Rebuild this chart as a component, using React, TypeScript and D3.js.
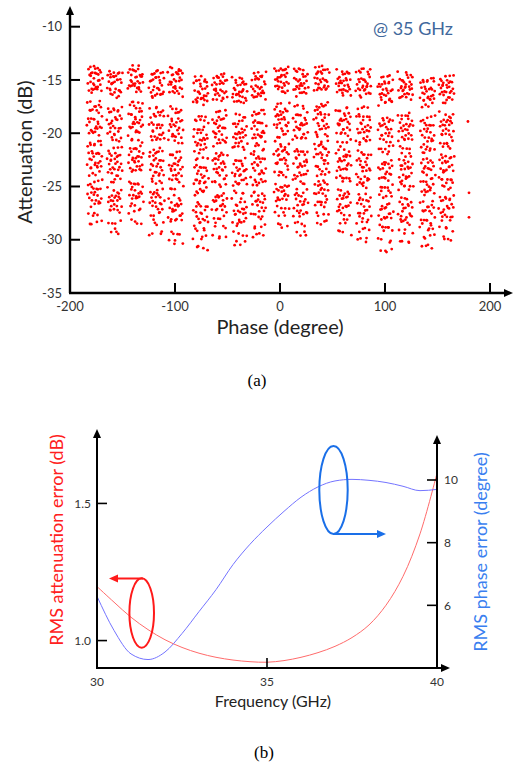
import React from "react";
import * as d3 from "d3";

// ---------- (a) scatter data ----------
const clusterPhase = [-176, -157, -137, -117, -99, -75, -57, -38, -20, 2, 20, 40, 61, 80, 101, 120, 141, 159];
const clusterTop = [-13.9, -14.2, -13.9, -14.3, -13.9, -14.9, -14.6, -14.9, -14.5, -13.9, -14.1, -13.9, -14.2, -14.1, -14.8, -14.5, -15.0, -14.7];
const clusterBottom = [-28.4, -29.2, -28.3, -29.3, -30.3, -30.8, -29.6, -30.4, -29.6, -28.6, -29.5, -28.4, -29.3, -30.1, -31.0, -30.3, -30.7, -29.9];
const subStateOffset = [-5.6, -2.3, 1.1, 4.5];
const levelOffsets = [0, 0.3, 0.6, 0.9, 1.2, 1.5, 1.8, 2.1, 3.3, 3.7, 4.1, 4.5, 4.9, 5.3, 5.7, 6.1, 6.9, 7.3, 7.7, 8.1, 8.5, 8.9, 9.3, 9.7, 10.6, 11.0, 11.4, 11.8, 12.2, 12.6, 13.4, 14.3];
const amPmDrift = [0.8, -0.6, 1.4, 0.2, -1.1, 0.9, -0.3, 1.7, -1.5, 0.4, 1.0, -0.8, 0.1, -1.8, 1.3, -0.2, 0.6, -1.2, 1.9, -0.5, 0.3, -1.6, 1.1, -0.1, 0.7, -0.9, 1.5, -1.3, 0.0, 1.2, -0.7, 0.5];
const attScatter = [0.12, -0.18, 0.05, 0.22, -0.08, -0.25, 0.15, 0.02, -0.14, 0.28, -0.04, 0.19, -0.21, 0.09, -0.11, 0.24, -0.02, 0.16, -0.27, 0.07, 0.2, -0.16, 0.01, -0.23, 0.13, 0.26, -0.06, -0.19, 0.1, -0.12, 0.18, -0.03];
const sparsePhase = [179, 180, 180];
const sparseAtt = [-18.9, -25.6, -27.9];
const phaseTicks = [-200, -100, 0, 100, 200];
const attTicks = [-35, -30, -25, -20, -15, -10];

// ---------- (b) line data ----------
const freq = [30, 30.5, 31, 31.5, 32, 32.5, 33, 33.5, 34, 34.5, 35, 35.5, 36, 36.5, 37, 37.5, 38, 38.5, 39, 39.5, 40];
const rmsAtt = [1.197, 1.14, 1.085, 1.04, 1.003, 0.975, 0.954, 0.939, 0.929, 0.923, 0.921, 0.927, 0.939, 0.956, 0.979, 1.011, 1.057, 1.129, 1.234, 1.389, 1.61];
const rmsPhase = [6.29, 5.2, 4.45, 4.27, 4.51, 5.1, 5.8, 6.5, 7.3, 7.95, 8.5, 9.0, 9.45, 9.78, 9.97, 10.02, 9.99, 9.92, 9.8, 9.66, 9.7];
const freqTicks = [30, 35, 40];
const attErrTicks = [1.0, 1.5];
const phaseErrTicks = [6, 8, 10];

const SANS = "Lato, 'Open Sans', sans-serif";
const TICK = "#333";

function arrowUp(x: number, y: number) {
  return `M${x},${y} L${x - 4},${y + 9} L${x + 4},${y + 9} Z`;
}
function arrowRight(x: number, y: number) {
  return `M${x},${y} L${x - 9},${y - 4} L${x - 9},${y + 4} Z`;
}
function arrowLeft(x: number, y: number) {
  return `M${x},${y} L${x + 9},${y - 4} L${x + 9},${y + 4} Z`;
}

export default function App() {
  // (a)
  const xA = d3.scaleLinear().domain([-200, 200]).range([70, 490]);
  const yA = d3.scaleLinear().domain([-35, -10]).range([293, 26.7]);

  const pts: { p: number; a: number }[] = [];
  clusterPhase.forEach((cp, c) => {
    const span = clusterTop[c] - clusterBottom[c];
    subStateOffset.forEach((so, s) => {
      levelOffsets.forEach((lo, l) => {
        const p = cp + so + amPmDrift[(l + 5 * s + 3 * c) % 32] * 1.3;
        const a = clusterTop[c] - (lo / 14.3) * span + attScatter[(3 * l + 11 * s + 7 * c) % 32];
        pts.push({ p, a });
      });
    });
  });
  sparsePhase.forEach((p, i) => pts.push({ p, a: sparseAtt[i] }));

  // (b)
  const xB = d3.scaleLinear().domain([30, 40]).range([97, 437]);
  const yL = d3.scaleLinear().domain([0.9, 1.6]).range([668, 476]);
  const yR = d3.scaleLinear().domain([4, 10]).range([668, 480]);
  const lineAtt = d3
    .line<number>()
    .x((_, i) => xB(freq[i]))
    .y((d) => yL(d))
    .curve(d3.curveCatmullRom);
  const linePh = d3
    .line<number>()
    .x((_, i) => xB(freq[i]))
    .y((d) => yR(d))
    .curve(d3.curveMonotoneX);

  return (
    <svg width={515} height={764} style={{ position: "absolute", left: 0, top: 0, background: "#fff" }}>
      {/* ===== (a) ===== */}
      <g>
        {pts.map((d, i) => (
          <circle key={i} cx={xA(d.p)} cy={yA(d.a)} r={1.4} fill="#ff0000" />
        ))}
        {/* axes */}
        <line x1={70} y1={293} x2={70} y2={14} stroke="#000" strokeWidth={2.4} />
        <path d={arrowUp(70, 6)} fill="#000" />
        <line x1={69} y1={293} x2={505} y2={293} stroke="#000" strokeWidth={2.4} />
        <path d={arrowRight(513, 293)} fill="#000" />
        {attTicks.map((t) => (
          <g key={t}>
            {t !== -35 && <line x1={70} x2={80} y1={yA(t)} y2={yA(t)} stroke="#000" strokeWidth={2} />}
            <text x={62} y={yA(t)} dy="0.35em" textAnchor="end" fontFamily={SANS} fontSize={13} fill={TICK}>
              {t}
            </text>
          </g>
        ))}
        {phaseTicks.map((t) => (
          <g key={t}>
            {t !== -200 && <line x1={xA(t)} x2={xA(t)} y1={293} y2={283} stroke="#000" strokeWidth={2} />}
            <text x={xA(t)} y={311} textAnchor="middle" fontFamily={SANS} fontSize={13} fill={TICK}>
              {t}
            </text>
          </g>
        ))}
        <text x={280} y={334} textAnchor="middle" fontFamily={SANS} fontSize={20} fill="#222">
          Phase (degree)
        </text>
        <text
          transform="translate(32,152) rotate(-90)"
          textAnchor="middle"
          fontFamily={SANS}
          fontSize={20}
          fill="#222"
        >
          Attenuation (dB)
        </text>
        <text x={413} y={35} textAnchor="middle" fontFamily={SANS} fontSize={18} fill="#41689c">
          @ 35 GHz
        </text>
        <text x={257} y={386} textAnchor="middle" fontFamily="'Liberation Serif', 'Times New Roman', serif" fontSize={17} fill="#000">
          (a)
        </text>
      </g>

      {/* ===== (b) ===== */}
      <g>
        <path d={lineAtt(rmsAtt) || ""} fill="none" stroke="#ff6b6b" strokeWidth={1} />
        <path d={linePh(rmsPhase) || ""} fill="none" stroke="#7474ff" strokeWidth={1} />
        {/* axes */}
        <line x1={97} y1={669} x2={97} y2={438} stroke="#000" strokeWidth={2} />
        <path d={arrowUp(97, 429)} fill="#000" />
        <line x1={437} y1={669} x2={437} y2={444} stroke="#000" strokeWidth={2} />
        <path d={arrowUp(437, 435)} fill="#000" />
        <line x1={96} y1={668} x2={442} y2={668} stroke="#000" strokeWidth={2} />
        <path d={arrowRight(450, 668)} fill="#000" />
        {attErrTicks.map((t) => (
          <g key={t}>
            <line x1={97} x2={107} y1={yL(t)} y2={yL(t)} stroke="#000" strokeWidth={1.6} />
            <text x={91} y={yL(t)} dy="0.35em" textAnchor="end" fontFamily={SANS} fontSize={12} fill={TICK}>
              {t.toFixed(1)}
            </text>
          </g>
        ))}
        {phaseErrTicks.map((t) => (
          <g key={t}>
            <line x1={427} x2={437} y1={yR(t)} y2={yR(t)} stroke="#000" strokeWidth={1.6} />
            <text x={444} y={yR(t)} dy="0.35em" textAnchor="start" fontFamily={SANS} fontSize={12} fill={TICK}>
              {t}
            </text>
          </g>
        ))}
        {freqTicks.map((t) => (
          <g key={t}>
            {t === 35 && <line x1={xB(t)} x2={xB(t)} y1={668} y2={658} stroke="#000" strokeWidth={1.6} />}
            <text x={xB(t)} y={686} textAnchor="middle" fontFamily={SANS} fontSize={12} fill={TICK}>
              {t}
            </text>
          </g>
        ))}
        <text x={273} y={707} textAnchor="middle" fontFamily={SANS} fontSize={16} fill="#222">
          Frequency (GHz)
        </text>
        <text
          transform="translate(63,540) rotate(-90)"
          textAnchor="middle"
          fontFamily={SANS}
          fontSize={18}
          fill="#ff2020"
        >
          RMS attenuation error (dB)
        </text>
        <text
          transform="translate(487,552) rotate(-90)"
          textAnchor="middle"
          fontFamily={SANS}
          fontSize={18}
          fill="#3a7ff0"
        >
          RMS phase error (degree)
        </text>

        {/* annotations */}
        <ellipse cx={141.7} cy={613} rx={12.3} ry={34.7} fill="none" stroke="#ff1a1a" strokeWidth={2} />
        <line x1={143} y1={578.5} x2={117} y2={578.5} stroke="#ff1a1a" strokeWidth={2} />
        <path d={arrowLeft(109, 578.5)} fill="#ff1a1a" />
        <ellipse cx={333.5} cy={490} rx={14.2} ry={44} fill="none" stroke="#1a6fe8" strokeWidth={2} />
        <line x1={333} y1={534} x2={378} y2={534} stroke="#1a6fe8" strokeWidth={2} />
        <path d={arrowRight(386, 534)} fill="#1a6fe8" />

        <text x={264} y={758} textAnchor="middle" fontFamily="'Liberation Serif', 'Times New Roman', serif" fontSize={17} fill="#000">
          (b)
        </text>
      </g>
    </svg>
  );
}
